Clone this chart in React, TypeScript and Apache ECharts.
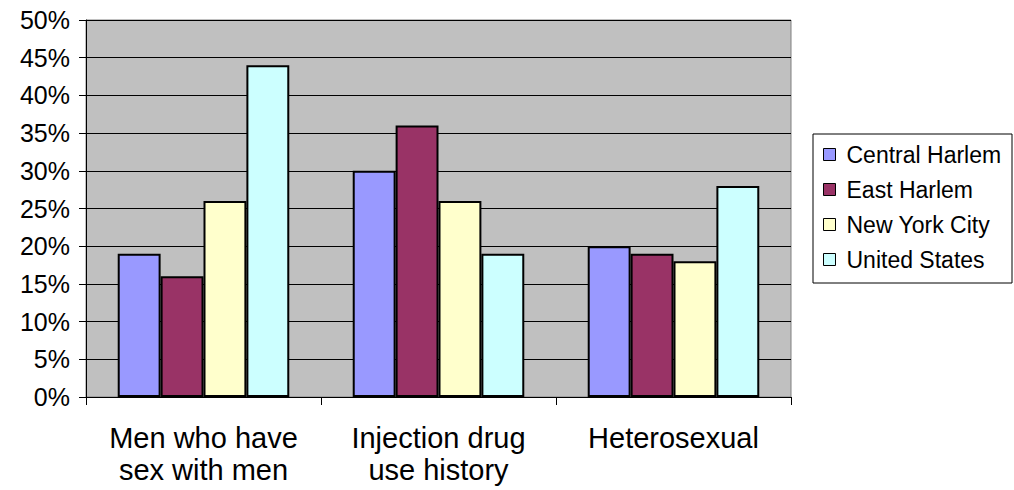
import React, { useEffect, useRef } from "react";
import * as echarts from "echarts";

const categories = ["Men who have\nsex with men", "Injection drug\nuse history", "Heterosexual"];
const centralHarlem = [19, 30, 20];
const eastHarlem = [16, 36, 19];
const newYorkCity = [26, 26, 18];
const unitedStates = [44, 19, 28];
const seriesNames = ["Central Harlem", "East Harlem", "New York City", "United States"];
const seriesColors = ["#9999FF", "#993366", "#FFFFCC", "#CCFFFF"];
const seriesData = [centralHarlem, eastHarlem, newYorkCity, unitedStates];

const FONT = "'Liberation Sans', Arial, sans-serif";

export default function App() {
  const ref = useRef<HTMLDivElement>(null);
  useEffect(() => {
    if (!ref.current) return;
    const chart = echarts.init(ref.current, undefined, { renderer: "svg" });
    chart.setOption({
      animation: false,
      textStyle: { fontFamily: FONT },
      grid: {
        left: 86,
        right: 223,
        top: 20,
        bottom: 93,
        show: true,
        backgroundColor: "#C0C0C0",
        borderColor: "#808080",
        borderWidth: 1,
      },
      graphic: [
        {
          type: "rect",
          shape: { x: 813, y: 134, width: 199, height: 149 },
          style: { fill: "none", stroke: "#000", lineWidth: 1 },
          silent: true,
        },
      ],
      legend: {
        orient: "vertical",
        left: 823,
        top: 143,
        padding: 0,
        itemWidth: 12,
        itemHeight: 12,
        itemGap: 12,
        icon: "rect",
        itemStyle: { borderColor: "#000", borderWidth: 1 },
        textStyle: { fontSize: 23, lineHeight: 23, color: "#000", fontFamily: FONT, padding: [0, 0, 0, 6] },
        data: seriesNames,
      },
      xAxis: {
        type: "category",
        data: categories,
        axisLine: { show: true, lineStyle: { color: "#000", width: 1 } },
        axisTick: { show: true, length: 8, alignWithLabel: false, lineStyle: { color: "#000" } },
        axisLabel: {
          interval: 0,
          hideOverlap: false,
          fontSize: 29,
          lineHeight: 32,
          margin: 25,
          color: "#000",
          fontFamily: FONT,
        },
        splitLine: { show: false },
      },
      yAxis: {
        type: "value",
        min: 0,
        max: 50,
        interval: 5,
        axisLine: { show: true, lineStyle: { color: "#000", width: 1 } },
        axisTick: { show: true, length: 7, lineStyle: { color: "#000" } },
        axisLabel: { formatter: "{value}%", fontSize: 25, margin: 16, color: "#000", fontFamily: FONT },
        splitLine: { show: true, lineStyle: { color: "#000", width: 1 } },
      },
      series: seriesNames.map((name, i) => ({
        name,
        type: "bar",
        data: seriesData[i],
        barGap: "0%",
        barCategoryGap: "27%",
        itemStyle: { color: seriesColors[i], borderColor: "#000", borderWidth: 2 },
      })),
    });
    return () => chart.dispose();
  }, []);
  return (
    <div
      ref={ref}
      style={{ position: "fixed", left: 0, top: 0, width: "1014px", height: "490px", background: "#fff" }}
    />
  );
}
